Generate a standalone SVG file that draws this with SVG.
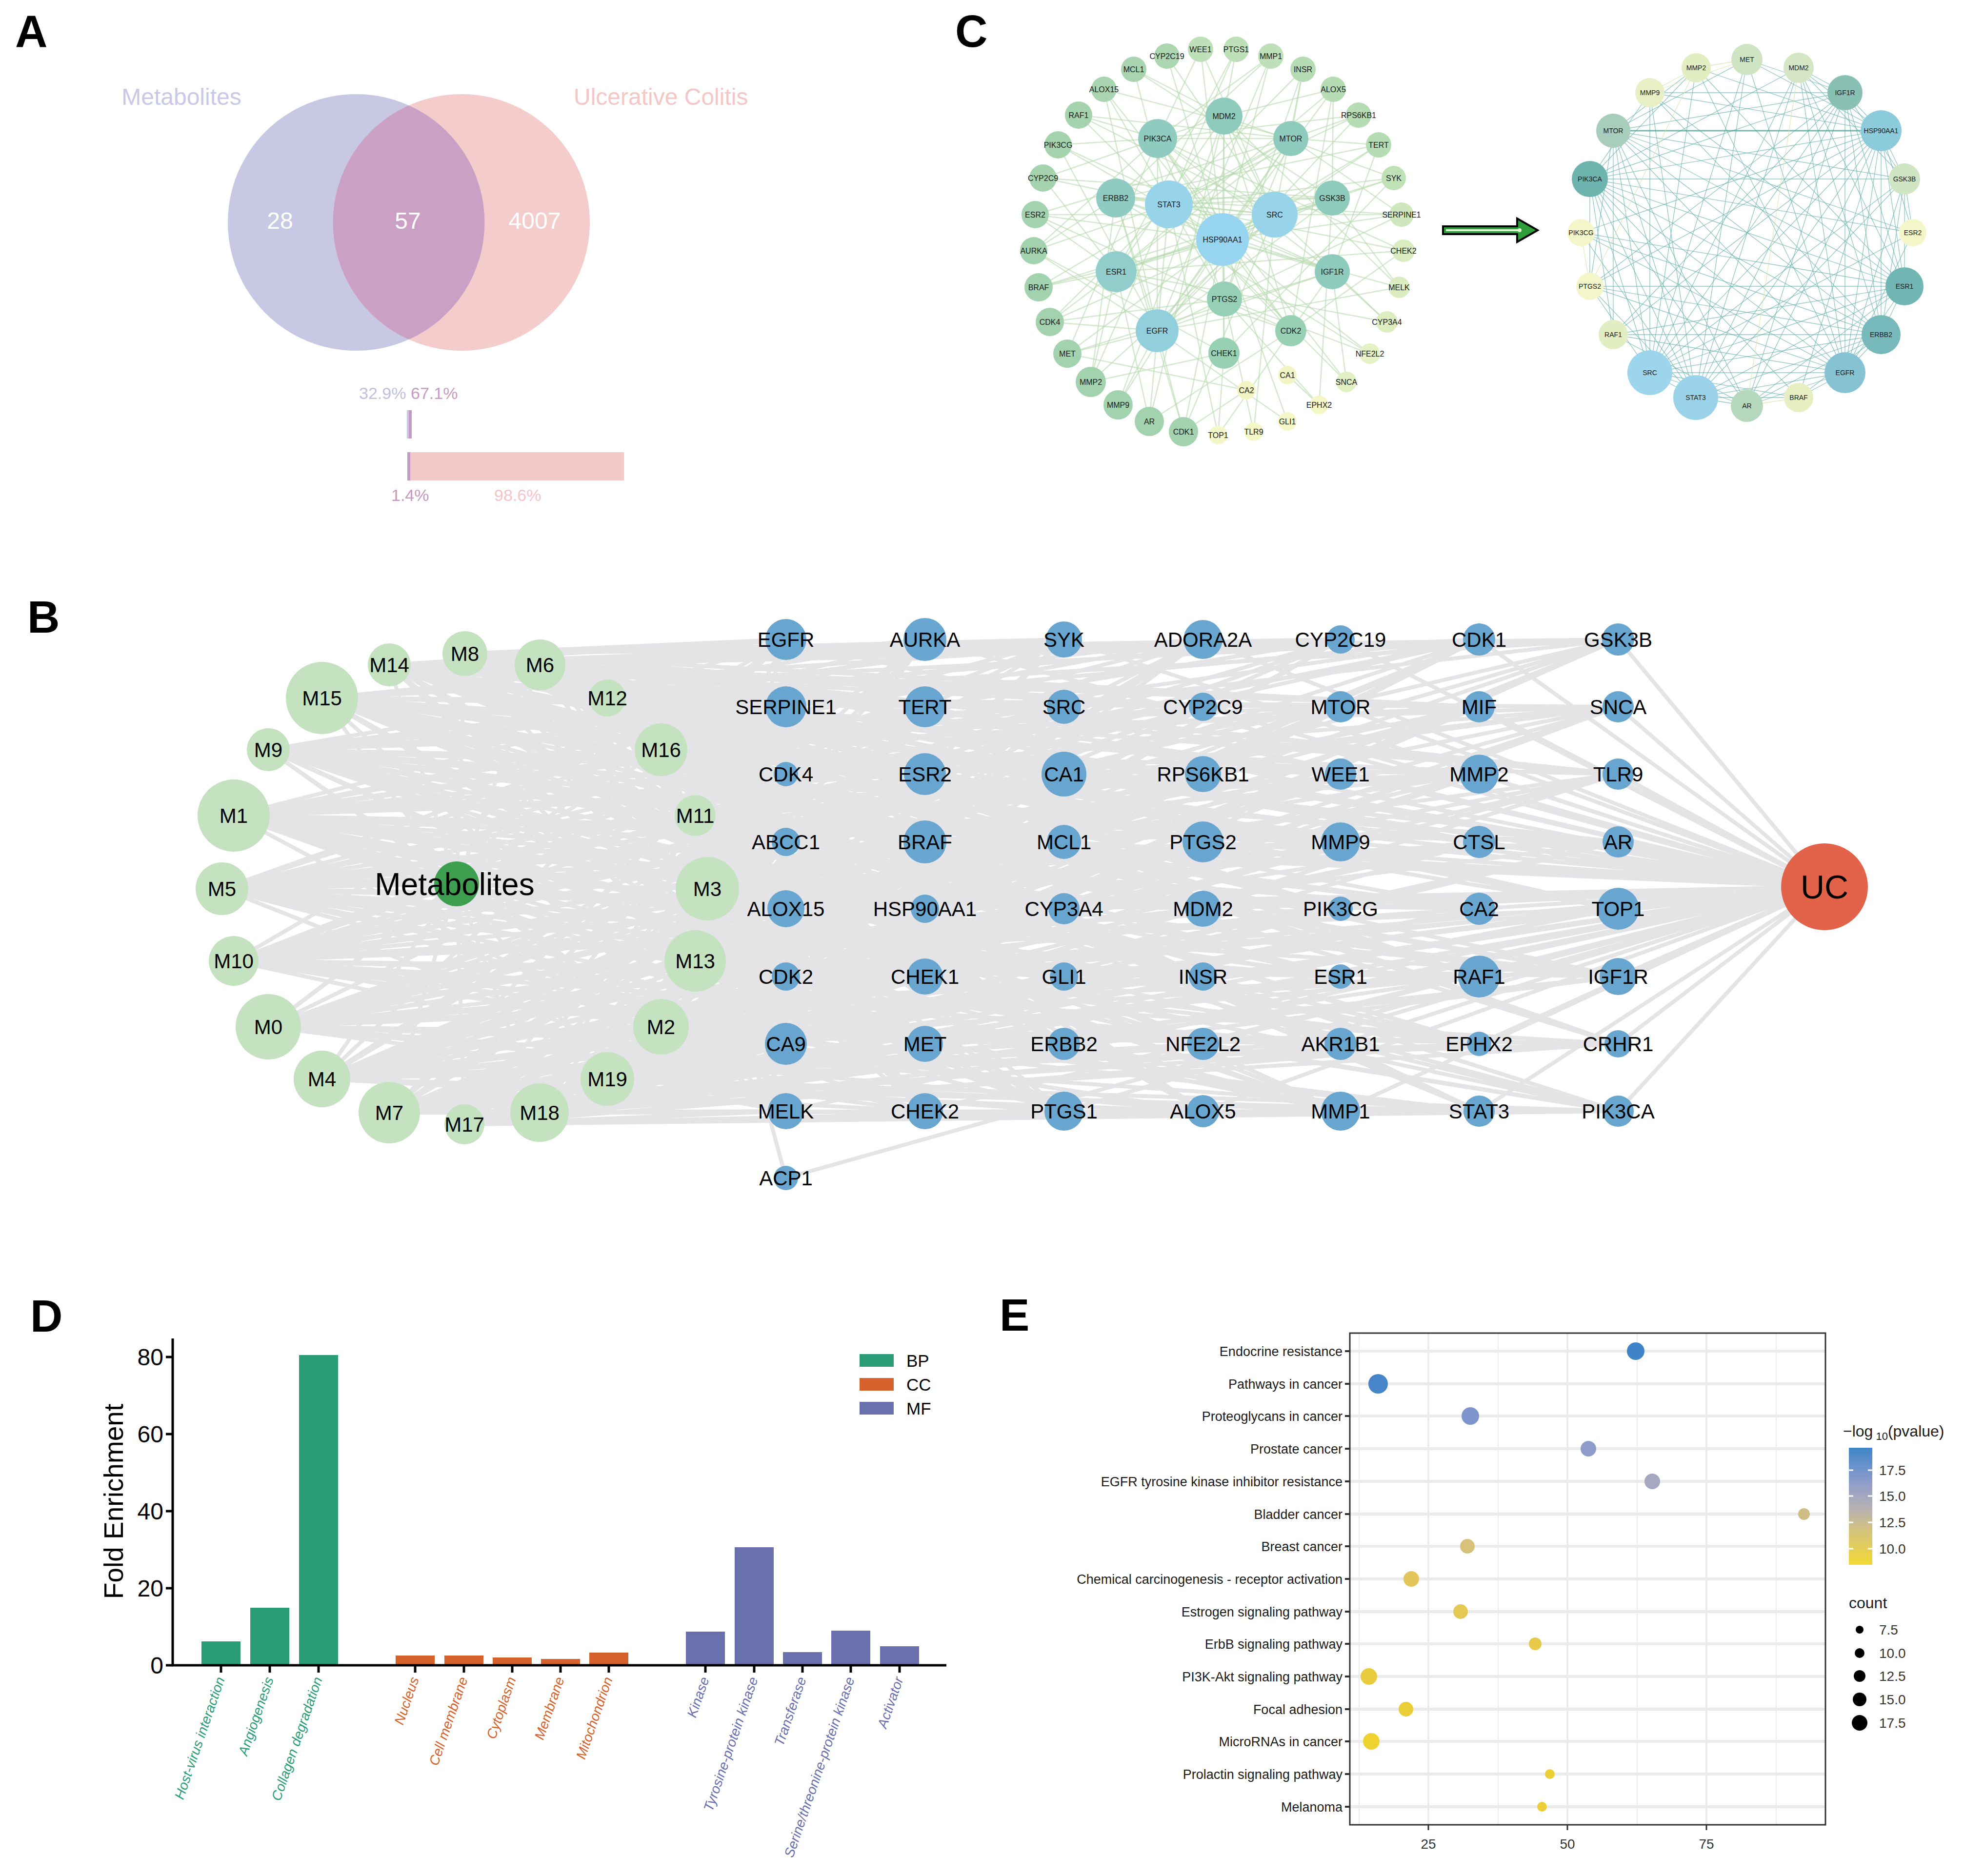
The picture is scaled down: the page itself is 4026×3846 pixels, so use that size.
<svg xmlns="http://www.w3.org/2000/svg" width="4026" height="3846" viewBox="0 0 4026 3846">
<style>
text{font-family:"Liberation Sans",Arial,sans-serif}
.pl{font-size:92px;font-weight:bold;fill:#000}
.bn{fill:#68a5cf}
.bt{font-size:42px;text-anchor:middle;fill:#000}
.mn{fill:#c4e2bf}
.ct{font-size:16px;text-anchor:middle;fill:#1a1a1a}
.rt{font-size:14px;text-anchor:middle;fill:#1a1a1a}
.el{font-size:27px;text-anchor:end;fill:#1a1a1a}
.xl{font-size:28px;font-style:italic;text-anchor:end}
.gl{stroke:#ebebeb;fill:none}
</style>
<defs>
<linearGradient id="cbar" x1="0" y1="0" x2="0" y2="1">
<stop offset="0" stop-color="#3f86c9"/><stop offset="0.3" stop-color="#8f9ccb"/><stop offset="0.5" stop-color="#b4b0b6"/><stop offset="0.72" stop-color="#d6c47a"/><stop offset="1" stop-color="#f2d934"/>
</linearGradient>
</defs>
<rect width="4026" height="3846" fill="#fff"/>

<!-- Panel letters -->
<text class="pl" x="31" y="96">A</text>
<text class="pl" x="56" y="1297">B</text>
<text class="pl" x="1958" y="96">C</text>
<text class="pl" x="62" y="2730">D</text>
<text class="pl" x="2049" y="2728">E</text>

<!-- Panel A -->
<g id="venn">
<circle cx="730" cy="456" r="263" fill="#c8c8e4"/>
<circle cx="946" cy="456" r="263" fill="#f4cccc"/>
<path d="M838 216A263 263 0 0 1 838 696A263 263 0 0 1 838 216Z" fill="#caa1c4"/>
<text x="372" y="215" font-size="48" text-anchor="middle" fill="#c9c8e6">Metabolites</text>
<text x="1176" y="215" font-size="48" fill="#f4c6c6">Ulcerative Colitis</text>
<text x="574" y="469" font-size="48" text-anchor="middle" fill="#fff">28</text>
<text x="836" y="469" font-size="48" text-anchor="middle" fill="#fff">57</text>
<text x="1096" y="469" font-size="48" text-anchor="middle" fill="#fff">4007</text>
</g>
<g id="venn-bars">
<text x="736" y="818" font-size="34" fill="#c3bfdf">32.9%</text>
<text x="842" y="818" font-size="34" fill="#c69cc2">67.1%</text>
<rect x="834" y="841" width="4" height="58" fill="#c8c8e4"/>
<rect x="838" y="841" width="6" height="58" fill="#c39ac0"/>
<rect x="835" y="927" width="6" height="58" fill="#c39ac0"/>
<rect x="841" y="927" width="438" height="58" fill="#f4c9c9"/>
<text x="802" y="1027" font-size="34" fill="#c39ac0">1.4%</text>
<text x="1013" y="1027" font-size="34" fill="#f4c4c8">98.6%</text>
</g>

<!-- Panel C left network -->
<g id="cl-edges" stroke="#b5d9ae" stroke-opacity="0.6" stroke-width="2.5" fill="none">
<path d="M2506 491L2461 101M2506 491L2605 115M2506 491L2733 183M2506 491L2826 297M2506 491L2873 440M2506 491L2868 589M2506 491L2808 725M2506 491L2639 864M2506 491L2426 885M2506 491L2292 830M2506 491L2188 725M2506 491L2129 589M2506 491L2122 440M2506 491L2169 297M2506 491L2263 183M2506 491L2392 115M2506 491L2396 419M2506 491L2613 440M2506 491L2372 678M2506 491L2288 557M2506 491L2373 284M2506 491L2509 238M2506 491L2646 284M2506 491L2287 406M2506 491L2731 406M2506 491L2731 557M2506 491L2510 613M2506 491L2646 678M2506 491L2509 724"/>
<path d="M2396 419L2534 101M2396 419L2671 142M2396 419L2785 236M2396 419L2857 365M2396 419L2877 514M2396 419L2760 783M2396 419L2497 892M2396 419L2356 864M2396 419L2236 783M2396 419L2152 660M2396 419L2119 514M2396 419L2138 365M2396 419L2211 236M2396 419L2324 142M2396 419L2613 440M2396 419L2372 678M2396 419L2646 284M2396 419L2731 557M2396 419L2731 406M2396 419L2646 678"/>
<path d="M2613 440L2461 101M2613 440L2671 142M2613 440L2826 297M2613 440L2857 365M2613 440L2873 440M2613 440L2843 660M2613 440L2570 885M2613 440L2426 885M2613 440L2236 783M2613 440L2129 589M2613 440L2122 440M2613 440L2211 236M2613 440L2392 115M2613 440L2372 678M2613 440L2288 557M2613 440L2287 406M2613 440L2373 284M2613 440L2509 238"/>
<path d="M2372 678L2605 115M2372 678L2785 236M2372 678L2873 440M2372 678L2868 589M2372 678L2639 864M2372 678L2426 885M2372 678L2292 830M2372 678L2188 725M2372 678L2152 660M2372 678L2119 514M2372 678L2169 297M2372 678L2263 183M2372 678L2646 284M2372 678L2731 406M2372 678L2731 557M2372 678L2373 284M2372 678L2287 406"/>
<path d="M2288 557L2534 101M2288 557L2733 183M2288 557L2857 365M2288 557L2877 514M2288 557L2843 660M2288 557L2356 864M2288 557L2236 783M2288 557L2152 660M2288 557L2129 589M2288 557L2122 440M2288 557L2138 365M2288 557L2509 238M2288 557L2646 284M2288 557L2731 406M2288 557L2646 678"/>
<path d="M2373 284L2461 101M2373 284L2605 115M2373 284L2785 236M2373 284L2877 514M2373 284L2760 783M2373 284L2188 725M2373 284L2119 514M2373 284L2169 297M2373 284L2211 236M2373 284L2646 284M2373 284L2731 557M2373 284L2510 613M2373 284L2646 678"/>
<path d="M2509 238L2534 101M2509 238L2733 183M2509 238L2857 365M2509 238L2868 589M2509 238L2356 864M2509 238L2292 830M2509 238L2138 365M2509 238L2324 142M2509 238L2509 724M2509 238L2646 678"/>
<path d="M2646 284L2671 142M2646 284L2785 236M2646 284L2826 297M2646 284L2873 440M2646 284L2129 589M2646 284L2122 440M2646 284L2211 236M2646 284L2263 183M2646 284L2510 613"/>
<path d="M2287 406L2605 115M2287 406L2826 297M2287 406L2873 440M2287 406L2808 725M2287 406L2426 885M2287 406L2236 783M2287 406L2119 514M2287 406L2731 557M2287 406L2731 406"/>
<path d="M2731 406L2733 183M2731 406L2868 589M2731 406L2704 830M2731 406L2152 660M2731 406L2138 365M2731 406L2324 142M2731 557L2826 297M2731 557L2843 660M2731 557L2760 783M2731 557L2497 892M2731 557L2188 725M2731 557L2169 297"/>
<path d="M2510 613L2671 142M2510 613L2808 725M2510 613L2704 830M2510 613L2570 885M2510 613L2152 660M2510 613L2263 183M2646 678L2733 183M2646 678L2877 514M2646 678L2356 864M2646 678L2122 440M2509 724L2857 365M2509 724L2497 892M2509 724L2236 783M2509 724L2119 514M2639 769L2704 830M2555 800L2426 885M2555 800L2188 725"/>
</g>
<g id="cl-nodes">
<g id="cl-WEE1"><circle cx="2461" cy="101" r="26" fill="#bde0b8"/><text class="ct" x="2461" y="107">WEE1</text></g>
<g id="cl-PTGS1"><circle cx="2534" cy="101" r="26" fill="#bde0b8"/><text class="ct" x="2534" y="107">PTGS1</text></g>
<g id="cl-MMP1"><circle cx="2605" cy="115" r="26" fill="#bde0b8"/><text class="ct" x="2605" y="121">MMP1</text></g>
<g id="cl-INSR"><circle cx="2671" cy="142" r="26" fill="#b6dcb4"/><text class="ct" x="2671" y="148">INSR</text></g>
<g id="cl-ALOX5"><circle cx="2733" cy="183" r="26" fill="#b6dcb4"/><text class="ct" x="2733" y="189">ALOX5</text></g>
<g id="cl-RPS6KB1"><circle cx="2785" cy="236" r="26" fill="#b6dcb4"/><text class="ct" x="2785" y="242">RPS6KB1</text></g>
<g id="cl-TERT"><circle cx="2826" cy="297" r="26" fill="#b6dcb4"/><text class="ct" x="2826" y="303">TERT</text></g>
<g id="cl-SYK"><circle cx="2857" cy="365" r="25" fill="#bfe1b6"/><text class="ct" x="2857" y="371">SYK</text></g>
<g id="cl-SERPINE1"><circle cx="2873" cy="440" r="25" fill="#cfe7bd"/><text class="ct" x="2873" y="446">SERPINE1</text></g>
<g id="cl-CHEK2"><circle cx="2877" cy="514" r="23" fill="#d8ecbf"/><text class="ct" x="2877" y="520">CHEK2</text></g>
<g id="cl-MELK"><circle cx="2868" cy="589" r="22" fill="#dbedc0"/><text class="ct" x="2868" y="595">MELK</text></g>
<g id="cl-CYP3A4"><circle cx="2843" cy="660" r="22" fill="#dcedbf"/><text class="ct" x="2843" y="666">CYP3A4</text></g>
<g id="cl-NFE2L2"><circle cx="2808" cy="725" r="21" fill="#e6f2c3"/><text class="ct" x="2808" y="731">NFE2L2</text></g>
<g id="cl-SNCA"><circle cx="2760" cy="783" r="21" fill="#e2efc2"/><text class="ct" x="2760" y="789">SNCA</text></g>
<g id="cl-EPHX2"><circle cx="2704" cy="830" r="19" fill="#f3f7c6"/><text class="ct" x="2704" y="836">EPHX2</text></g>
<g id="cl-GLI1"><circle cx="2639" cy="864" r="19" fill="#f4f8c7"/><text class="ct" x="2639" y="870">GLI1</text></g>
<g id="cl-TLR9"><circle cx="2570" cy="885" r="19" fill="#f4f8c7"/><text class="ct" x="2570" y="891">TLR9</text></g>
<g id="cl-TOP1"><circle cx="2497" cy="892" r="19" fill="#f4f8c7"/><text class="ct" x="2497" y="898">TOP1</text></g>
<g id="cl-CDK1"><circle cx="2426" cy="885" r="30" fill="#a2d2ae"/><text class="ct" x="2426" y="891">CDK1</text></g>
<g id="cl-AR"><circle cx="2356" cy="864" r="30" fill="#a2d2ae"/><text class="ct" x="2356" y="870">AR</text></g>
<g id="cl-MMP9"><circle cx="2292" cy="830" r="30" fill="#a2d2ae"/><text class="ct" x="2292" y="836">MMP9</text></g>
<g id="cl-MMP2"><circle cx="2236" cy="783" r="31" fill="#a2d2ae"/><text class="ct" x="2236" y="789">MMP2</text></g>
<g id="cl-MET"><circle cx="2188" cy="725" r="29" fill="#a2d2ae"/><text class="ct" x="2188" y="731">MET</text></g>
<g id="cl-CDK4"><circle cx="2152" cy="660" r="29" fill="#a2d2ae"/><text class="ct" x="2152" y="666">CDK4</text></g>
<g id="cl-BRAF"><circle cx="2129" cy="589" r="29" fill="#a2d2ae"/><text class="ct" x="2129" y="595">BRAF</text></g>
<g id="cl-AURKA"><circle cx="2119" cy="514" r="28" fill="#a2d2ae"/><text class="ct" x="2119" y="520">AURKA</text></g>
<g id="cl-ESR2"><circle cx="2122" cy="440" r="28" fill="#a2d2ae"/><text class="ct" x="2122" y="446">ESR2</text></g>
<g id="cl-CYP2C9"><circle cx="2138" cy="365" r="28" fill="#a5d3ae"/><text class="ct" x="2138" y="371">CYP2C9</text></g>
<g id="cl-PIK3CG"><circle cx="2169" cy="297" r="28" fill="#a5d3ae"/><text class="ct" x="2169" y="303">PIK3CG</text></g>
<g id="cl-RAF1"><circle cx="2211" cy="236" r="28" fill="#a5d3ae"/><text class="ct" x="2211" y="242">RAF1</text></g>
<g id="cl-ALOX15"><circle cx="2263" cy="183" r="26" fill="#a8d5af"/><text class="ct" x="2263" y="189">ALOX15</text></g>
<g id="cl-MCL1"><circle cx="2324" cy="142" r="26" fill="#a8d5af"/><text class="ct" x="2324" y="148">MCL1</text></g>
<g id="cl-CYP2C19"><circle cx="2392" cy="115" r="26" fill="#abd6b0"/><text class="ct" x="2392" y="121">CYP2C19</text></g>
<g id="cl-MDM2"><circle cx="2509" cy="238" r="38" fill="#8fcbbc"/><text class="ct" x="2509" y="244">MDM2</text></g>
<g id="cl-PIK3CA"><circle cx="2373" cy="284" r="40" fill="#8fcbbf"/><text class="ct" x="2373" y="290">PIK3CA</text></g>
<g id="cl-MTOR"><circle cx="2646" cy="284" r="36" fill="#8fcbbc"/><text class="ct" x="2646" y="290">MTOR</text></g>
<g id="cl-ERBB2"><circle cx="2287" cy="406" r="40" fill="#8fcbc2"/><text class="ct" x="2287" y="412">ERBB2</text></g>
<g id="cl-GSK3B"><circle cx="2731" cy="406" r="36" fill="#8fcbbc"/><text class="ct" x="2731" y="412">GSK3B</text></g>
<g id="cl-ESR1"><circle cx="2288" cy="557" r="42" fill="#90cdcb"/><text class="ct" x="2288" y="563">ESR1</text></g>
<g id="cl-IGF1R"><circle cx="2731" cy="557" r="36" fill="#8fcbbc"/><text class="ct" x="2731" y="563">IGF1R</text></g>
<g id="cl-PTGS2"><circle cx="2510" cy="613" r="36" fill="#95cfb6"/><text class="ct" x="2510" y="619">PTGS2</text></g>
<g id="cl-CDK2"><circle cx="2646" cy="678" r="32" fill="#97d0b2"/><text class="ct" x="2646" y="684">CDK2</text></g>
<g id="cl-CHEK1"><circle cx="2509" cy="724" r="32" fill="#97d0b2"/><text class="ct" x="2509" y="730">CHEK1</text></g>
<g id="cl-CA1"><circle cx="2639" cy="769" r="19" fill="#f2f6c5"/><text class="ct" x="2639" y="775">CA1</text></g>
<g id="cl-CA2"><circle cx="2555" cy="800" r="19" fill="#f2f6c5"/><text class="ct" x="2555" y="806">CA2</text></g>
<g id="cl-EGFR"><circle cx="2372" cy="678" r="44" fill="#91cfdc"/><text class="ct" x="2372" y="684">EGFR</text></g>
<g id="cl-STAT3"><circle cx="2396" cy="419" r="49" fill="#97d4ea"/><text class="ct" x="2396" y="425">STAT3</text></g>
<g id="cl-SRC"><circle cx="2613" cy="440" r="47" fill="#97d4ea"/><text class="ct" x="2613" y="446">SRC</text></g>
<g id="cl-HSP90AA1"><circle cx="2506" cy="491" r="54" fill="#97d4ef"/><text class="ct" x="2506" y="497">HSP90AA1</text></g>
</g>

<!-- Arrow -->
<g id="arrow">
<path d="M2958 464L3110 464L3110 448L3152 472L3110 496L3110 480L2958 480Z" fill="#2e9e3a" stroke="#000" stroke-width="4" stroke-linejoin="miter"/>
<line x1="2964" y1="472" x2="3114" y2="472" stroke="#e2f5d6" stroke-width="4"/>
<circle cx="3115" cy="472" r="4" fill="#e2f5d6"/>
</g>

<!-- Panel C right network -->
<g id="cr-edges" stroke="#68b3ae" stroke-width="1.3" stroke-opacity="0.75" fill="none">
<path d="M3382 764L3581 122M3382 764L3477 139M3382 764L3687 139M3382 764L3382 190M3382 764L3782 190M3382 764L3307 268M3382 764L3856 268M3382 764L3259 367M3382 764L3904 367M3382 764L3921 477M3382 764L3259 587M3382 764L3904 587M3382 764L3856 686M3382 764L3782 764M3382 764L3476 815M3382 764L3581 832M3382 764L3687 815"/>
<path d="M3476 815L3581 122M3476 815L3687 139M3476 815L3382 190M3476 815L3782 190M3476 815L3307 268M3476 815L3856 268M3476 815L3259 367M3476 815L3904 367M3476 815L3241 477M3476 815L3259 587M3476 815L3904 587M3476 815L3856 686M3476 815L3782 764M3476 815L3581 832M3476 815L3687 815"/>
<path d="M3856 268L3581 122M3856 268L3477 139M3856 268L3687 139M3856 268L3382 190M3856 268L3782 190M3856 268L3259 367M3856 268L3904 367M3856 268L3241 477M3856 268L3921 477M3856 268L3259 587M3856 268L3904 587M3856 268L3307 686M3856 268L3856 686M3856 268L3782 764M3856 268L3581 832M3856 268L3687 815"/>
<path d="M3782 764L3581 122M3782 764L3477 139M3782 764L3687 139M3782 764L3782 190M3782 764L3307 268M3782 764L3259 367M3782 764L3904 367M3782 764L3241 477M3782 764L3921 477M3782 764L3259 587M3782 764L3904 587M3782 764L3307 686M3782 764L3856 686M3782 764L3581 832M3782 764L3687 815"/>
<path d="M3904 587L3477 139M3904 587L3687 139M3904 587L3382 190M3904 587L3782 190M3904 587L3307 268M3904 587L3259 367M3904 587L3904 367M3904 587L3241 477M3904 587L3259 587M3904 587L3307 686M3904 587L3856 686M3904 587L3581 832"/>
<path d="M3856 686L3687 139M3856 686L3382 190M3856 686L3782 190M3856 686L3307 268M3856 686L3259 367M3856 686L3904 367M3856 686L3241 477M3856 686L3259 587M3856 686L3307 686M3856 686L3581 832M3856 686L3687 815"/>
<path d="M3259 367L3477 139M3259 367L3687 139M3259 367L3382 190M3259 367L3782 190M3259 367L3904 367M3259 367L3921 477M3259 367L3259 587M3259 367L3307 686M3259 367L3581 832M3259 367L3687 815"/>
<path d="M3782 190L3581 122M3782 190L3687 139M3782 190L3382 190M3782 190L3307 268M3782 190L3904 367M3782 190L3259 587M3782 190L3307 686M3782 190L3581 832M3307 268L3581 122M3307 268L3477 139M3307 268L3904 367M3307 268L3921 477M3307 268L3259 587M3307 268L3307 686M3307 268L3581 832M3687 139L3904 367M3904 367L3921 477M3581 832L3307 686"/>
<path d="M3307 268L3856 268" stroke="#4f9f9a" stroke-width="3"/>
<path d="M3581 122L3477 139M3581 122L3382 190M3477 139L3382 190M3241 477L3259 587M3581 832L3687 815M3477 139L3259 587M3687 139L3581 832" stroke="#d4e6a6"/>
</g>
<g id="cr-nodes">
<g id="cr-MET"><circle cx="3581" cy="122" r="32" fill="#cfe4c2"/><text class="rt" x="3581" y="127">MET</text></g>
<g id="cr-MMP2"><circle cx="3477" cy="139" r="30" fill="#e3edc2"/><text class="rt" x="3477" y="144">MMP2</text></g>
<g id="cr-MDM2"><circle cx="3687" cy="139" r="31" fill="#d4e6c4"/><text class="rt" x="3687" y="144">MDM2</text></g>
<g id="cr-MMP9"><circle cx="3382" cy="190" r="30" fill="#e6f0c4"/><text class="rt" x="3382" y="195">MMP9</text></g>
<g id="cr-IGF1R"><circle cx="3782" cy="190" r="36" fill="#88c0b4"/><text class="rt" x="3782" y="195">IGF1R</text></g>
<g id="cr-MTOR"><circle cx="3307" cy="268" r="35" fill="#a7cdbd"/><text class="rt" x="3307" y="273">MTOR</text></g>
<g id="cr-HSP90AA1"><circle cx="3856" cy="268" r="42" fill="#8ccbdb"/><text class="rt" x="3856" y="273">HSP90AA1</text></g>
<g id="cr-PIK3CA"><circle cx="3259" cy="367" r="37" fill="#6db3ae"/><text class="rt" x="3259" y="372">PIK3CA</text></g>
<g id="cr-GSK3B"><circle cx="3904" cy="367" r="32" fill="#d0e5c3"/><text class="rt" x="3904" y="372">GSK3B</text></g>
<g id="cr-PIK3CG"><circle cx="3241" cy="477" r="28" fill="#f3f6c8"/><text class="rt" x="3241" y="482">PIK3CG</text></g>
<g id="cr-ESR2"><circle cx="3921" cy="477" r="28" fill="#f3f6c8"/><text class="rt" x="3921" y="482">ESR2</text></g>
<g id="cr-PTGS2"><circle cx="3259" cy="587" r="28" fill="#f3f6c8"/><text class="rt" x="3259" y="592">PTGS2</text></g>
<g id="cr-ESR1"><circle cx="3904" cy="587" r="39" fill="#72b6b4"/><text class="rt" x="3904" y="592">ESR1</text></g>
<g id="cr-RAF1"><circle cx="3307" cy="686" r="30" fill="#e3edc2"/><text class="rt" x="3307" y="691">RAF1</text></g>
<g id="cr-ERBB2"><circle cx="3856" cy="686" r="40" fill="#77b8bb"/><text class="rt" x="3856" y="691">ERBB2</text></g>
<g id="cr-SRC"><circle cx="3382" cy="764" r="46" fill="#9dd5ec"/><text class="rt" x="3382" y="769">SRC</text></g>
<g id="cr-EGFR"><circle cx="3782" cy="764" r="42" fill="#85c3d3"/><text class="rt" x="3782" y="769">EGFR</text></g>
<g id="cr-STAT3"><circle cx="3476" cy="815" r="46" fill="#9ad3e9"/><text class="rt" x="3476" y="820">STAT3</text></g>
<g id="cr-AR"><circle cx="3581" cy="832" r="33" fill="#b5d8bd"/><text class="rt" x="3581" y="837">AR</text></g>
<g id="cr-BRAF"><circle cx="3687" cy="815" r="30" fill="#e6eec2"/><text class="rt" x="3687" y="820">BRAF</text></g>
</g>

<!-- Panel B edges -->
<g id="b-edges" stroke="#e4e4e6" stroke-width="8" fill="none" stroke-linejoin="round">
<path d="M936 1812L550 2105M936 1812L479 1672M936 1812L1355 2105M936 1812L1450 1822M936 1812L660 2212M936 1812L455 1822M936 1812L1107 1363M936 1812L798 2281M936 1812L953 1340M936 1812L550 1537M936 1812L479 1970M936 1812L1425 1672M936 1812L1245 1431M936 1812L1425 1970M936 1812L798 1363M936 1812L660 1431M936 1812L1355 1537M936 1812L952 2305M936 1812L1106 2281M936 1812L1245 2212"/>
<path d="M550 2105L1611 1311M550 2105L1611 1863M550 2105L1896 1726M550 2105L1896 2278M550 2105L2181 2140M550 2105L2181 1587M550 2105L2466 1449M550 2105L2466 2002M550 2105L2748 1863M550 2105L2748 1311M550 2105L3032 2278M550 2105L3032 1726M550 2105L3317 1587M550 2105L3317 2140"/>
<path d="M660 2212L1611 1311M660 2212L1611 1863M660 2212L1896 1726M660 2212L1896 2278M660 2212L2181 2140M660 2212L2181 1587M660 2212L2466 1449M660 2212L2466 2002M660 2212L2748 1863M660 2212L2748 1311M660 2212L3032 2278M660 2212L3032 1726M660 2212L3317 1587M660 2212L3317 2140"/>
<path d="M953 1340L1611 1311M953 1340L1611 1863M953 1340L1896 1726M953 1340L1896 2278M953 1340L2181 2140M953 1340L2181 1587M953 1340L2466 1449M953 1340L2466 2002M953 1340L2748 1863M953 1340L2748 1311M953 1340L3032 2278M953 1340L3032 1726M953 1340L3317 1587M953 1340L3317 2140"/>
<path d="M1245 1431L1611 1311M1245 1431L1611 1863M1245 1431L1896 1726M1245 1431L1896 2278M1245 1431L2181 2140M1245 1431L2181 1587M1245 1431L2466 1449M1245 1431L2466 2002M1245 1431L2748 1863M1245 1431L2748 1311M1245 1431L3032 2278M1245 1431L3032 1726M1245 1431L3317 1587M1245 1431L3317 2140"/>
<path d="M1355 1537L1611 1311M1355 1537L1611 1863M1355 1537L1896 1726M1355 1537L1896 2278M1355 1537L2181 2140M1355 1537L2181 1587M1355 1537L2466 1449M1355 1537L2466 2002M1355 1537L2748 1863M1355 1537L2748 1311M1355 1537L3032 2278M1355 1537L3032 1726M1355 1537L3317 1587M1355 1537L3317 2140"/>
<path d="M479 1672L1611 1449M479 1672L1611 2002M479 1672L1896 1863M479 1672L1896 1311M479 1672L2181 2278M479 1672L2181 1726M479 1672L2466 1587M479 1672L2466 2140M479 1672L2748 2002M479 1672L2748 1449M479 1672L3032 1311M479 1672L3032 1863M479 1672L3317 1726M479 1672L3317 2278"/>
<path d="M455 1822L1611 1449M455 1822L1611 2002M455 1822L1896 1863M455 1822L1896 1311M455 1822L2181 2278M455 1822L2181 1726M455 1822L2466 1587M455 1822L2466 2140M455 1822L2748 2002M455 1822L2748 1449M455 1822L3032 1311M455 1822L3032 1863M455 1822L3317 1726M455 1822L3317 2278"/>
<path d="M550 1537L1611 1449M550 1537L1611 2002M550 1537L1896 1863M550 1537L1896 1311M550 1537L2181 2278M550 1537L2181 1726M550 1537L2466 1587M550 1537L2466 2140M550 1537L2748 2002M550 1537L2748 1449M550 1537L3032 1311M550 1537L3032 1863M550 1537L3317 1726M550 1537L3317 2278"/>
<path d="M1425 1970L1611 1449M1425 1970L1611 2002M1425 1970L1896 1863M1425 1970L1896 1311M1425 1970L2181 2278M1425 1970L2181 1726M1425 1970L2466 1587M1425 1970L2466 2140M1425 1970L2748 2002M1425 1970L2748 1449M1425 1970L3032 1311M1425 1970L3032 1863M1425 1970L3317 1726M1425 1970L3317 2278"/>
<path d="M952 2305L1611 1449M952 2305L1611 2002M952 2305L1896 1863M952 2305L1896 1311M952 2305L2181 2278M952 2305L2181 1726M952 2305L2466 1587M952 2305L2466 2140M952 2305L2748 2002M952 2305L2748 1449M952 2305L3032 1311M952 2305L3032 1863M952 2305L3317 1726M952 2305L3317 2278"/>
<path d="M1355 2105L1611 1587M1355 2105L1611 2140M1355 2105L1896 2002M1355 2105L1896 1449M1355 2105L2181 1311M1355 2105L2181 1863M1355 2105L2466 1726M1355 2105L2466 2278M1355 2105L2748 2140M1355 2105L2748 1587M1355 2105L3032 1449M1355 2105L3032 2002M1355 2105L3317 1863M1355 2105L3317 1311"/>
<path d="M1107 1363L1611 1587M1107 1363L1611 2140M1107 1363L1896 2002M1107 1363L1896 1449M1107 1363L2181 1311M1107 1363L2181 1863M1107 1363L2466 1726M1107 1363L2466 2278M1107 1363L2748 2140M1107 1363L2748 1587M1107 1363L3032 1449M1107 1363L3032 2002M1107 1363L3317 1863M1107 1363L3317 1311"/>
<path d="M479 1970L1611 1587M479 1970L1611 2140M479 1970L1896 2002M479 1970L1896 1449M479 1970L2181 1311M479 1970L2181 1863M479 1970L2466 1726M479 1970L2466 2278M479 1970L2748 2140M479 1970L2748 1587M479 1970L3032 1449M479 1970L3032 2002M479 1970L3317 1863M479 1970L3317 1311"/>
<path d="M798 1363L1611 1587M798 1363L1611 2140M798 1363L1896 2002M798 1363L1896 1449M798 1363L2181 1311M798 1363L2181 1863M798 1363L2466 1726M798 1363L2466 2278M798 1363L2748 2140M798 1363L2748 1587M798 1363L3032 1449M798 1363L3032 2002M798 1363L3317 1863M798 1363L3317 1311"/>
<path d="M1106 2281L1611 1587M1106 2281L1611 2140M1106 2281L1896 2002M1106 2281L1896 1449M1106 2281L2181 1311M1106 2281L2181 1863M1106 2281L2466 1726M1106 2281L2466 2278M1106 2281L2748 2140M1106 2281L2748 1587M1106 2281L3032 1449M1106 2281L3032 2002M1106 2281L3317 1863M1106 2281L3317 1311"/>
<path d="M1450 1822L1611 1726M1450 1822L1611 2278M1450 1822L1896 2140M1450 1822L1896 1587M1450 1822L2181 1449M1450 1822L2181 2002M1450 1822L2466 1863M1450 1822L2466 1311M1450 1822L2748 2278M1450 1822L2748 1726M1450 1822L3032 1587M1450 1822L3032 2140M1450 1822L3317 2002M1450 1822L3317 1449M1450 1822L1611 2415"/>
<path d="M798 2281L1611 1726M798 2281L1611 2278M798 2281L1896 2140M798 2281L1896 1587M798 2281L2181 1449M798 2281L2181 2002M798 2281L2466 1863M798 2281L2466 1311M798 2281L2748 2278M798 2281L2748 1726M798 2281L3032 1587M798 2281L3032 2140M798 2281L3317 2002M798 2281L3317 1449"/>
<path d="M1425 1672L1611 1726M1425 1672L1611 2278M1425 1672L1896 2140M1425 1672L1896 1587M1425 1672L2181 1449M1425 1672L2181 2002M1425 1672L2466 1863M1425 1672L2466 1311M1425 1672L2748 2278M1425 1672L2748 1726M1425 1672L3032 1587M1425 1672L3032 2140M1425 1672L3317 2002M1425 1672L3317 1449"/>
<path d="M660 1431L1611 1726M660 1431L1611 2278M660 1431L1896 2140M660 1431L1896 1587M660 1431L2181 1449M660 1431L2181 2002M660 1431L2466 1863M660 1431L2466 1311M660 1431L2748 2278M660 1431L2748 1726M660 1431L3032 1587M660 1431L3032 2140M660 1431L3317 2002M660 1431L3317 1449"/>
<path d="M1245 2212L1611 1726M1245 2212L1611 2278M1245 2212L1896 2140M1245 2212L1896 1587M1245 2212L2181 1449M1245 2212L2181 2002M1245 2212L2466 1863M1245 2212L2466 1311M1245 2212L2748 2278M1245 2212L2748 1726M1245 2212L3032 1587M1245 2212L3032 2140M1245 2212L3317 2002M1245 2212L3317 1449"/>
<path d="M550 2105L1611 1587M550 2105L1611 2140M550 2105L1896 2002M550 2105L1896 1449M550 2105L2181 1311M550 2105L2181 1863M550 2105L2466 1726M550 2105L2466 2278M550 2105L2748 2140M550 2105L2748 1587M550 2105L3032 1449M550 2105L3032 2002M550 2105L3317 1863M550 2105L3317 1311"/>
<path d="M479 1672L1611 1726M479 1672L1611 2278M479 1672L1896 2140M479 1672L1896 1587M479 1672L2181 1449M479 1672L2181 2002M479 1672L2466 1863M479 1672L2466 1311M479 1672L2748 2278M479 1672L2748 1726M479 1672L3032 1587M479 1672L3032 2140M479 1672L3317 2002M479 1672L3317 1449"/>
<path d="M1355 2105L1611 1311M1355 2105L1611 1863M1355 2105L1896 1726M1355 2105L1896 2278M1355 2105L2181 2140M1355 2105L2181 1587M1355 2105L2466 1449M1355 2105L2466 2002M1355 2105L2748 1863M1355 2105L2748 1311M1355 2105L3032 2278M1355 2105L3032 1726M1355 2105L3317 1587M1355 2105L3317 2140"/>
<path d="M1450 1822L1611 1449M1450 1822L1611 2002M1450 1822L1896 1863M1450 1822L1896 1311M1450 1822L2181 2278M1450 1822L2181 1726M1450 1822L2466 1587M1450 1822L2466 2140M1450 1822L2748 2002M1450 1822L2748 1449M1450 1822L3032 1311M1450 1822L3032 1863M1450 1822L3317 1726M1450 1822L3317 2278"/>
<path d="M660 2212L1611 1587M660 2212L1611 2140M660 2212L1896 2002M660 2212L1896 1449M660 2212L2181 1311M660 2212L2181 1863M660 2212L2466 1726M660 2212L2466 2278M660 2212L2748 2140M660 2212L2748 1587M660 2212L3032 1449M660 2212L3032 2002M660 2212L3317 1863M660 2212L3317 1311"/>
<path d="M455 1822L1611 1726M455 1822L1611 2278M455 1822L1896 2140M455 1822L1896 1587M455 1822L2181 1449M455 1822L2181 2002M455 1822L2466 1863M455 1822L2466 1311M455 1822L2748 2278M455 1822L2748 1726M455 1822L3032 1587M455 1822L3032 2140M455 1822L3317 2002M455 1822L3317 1449"/>
<path d="M1107 1363L1611 1311M1107 1363L1611 1863M1107 1363L1896 1726M1107 1363L1896 2278M1107 1363L2181 2140M1107 1363L2181 1587M1107 1363L2466 1449M1107 1363L2466 2002M1107 1363L2748 1863M1107 1363L2748 1311M1107 1363L3032 2278M1107 1363L3032 1726M1107 1363L3317 1587M1107 1363L3317 2140"/>
<path d="M798 2281L1611 1449M798 2281L1611 2002M798 2281L1896 1863M798 2281L1896 1311M798 2281L2181 2278M798 2281L2181 1726M798 2281L2466 1587M798 2281L2466 2140M798 2281L2748 2002M798 2281L2748 1449M798 2281L3032 1311M798 2281L3032 1863M798 2281L3317 1726M798 2281L3317 2278"/>
<path d="M953 1340L1611 1587M953 1340L1611 2140M953 1340L1896 2002M953 1340L1896 1449M953 1340L2181 1311M953 1340L2181 1863M953 1340L2466 1726M953 1340L2466 2278M953 1340L2748 2140M953 1340L2748 1587M953 1340L3032 1449M953 1340L3032 2002M953 1340L3317 1863M953 1340L3317 1311"/>
<path d="M550 1537L1611 1726M550 1537L1611 2278M550 1537L1896 2140M550 1537L1896 1587M550 1537L2181 1449M550 1537L2181 2002M550 1537L2466 1863M550 1537L2466 1311M550 1537L2748 2278M550 1537L2748 1726M550 1537L3032 1587M550 1537L3032 2140M550 1537L3317 2002M550 1537L3317 1449"/>
<path d="M479 1970L1611 1311M479 1970L1611 1863M479 1970L1896 1726M479 1970L1896 2278M479 1970L2181 2140M479 1970L2181 1587M479 1970L2466 1449M479 1970L2466 2002M479 1970L2748 1863M479 1970L2748 1311M479 1970L3032 2278M479 1970L3032 1726M479 1970L3317 1587M479 1970L3317 2140"/>
<path d="M1425 1672L1611 1449M1425 1672L1611 2002M1425 1672L1896 1863M1425 1672L1896 1311M1425 1672L2181 2278M1425 1672L2181 1726M1425 1672L2466 1587M1425 1672L2466 2140M1425 1672L2748 2002M1425 1672L2748 1449M1425 1672L3032 1311M1425 1672L3032 1863M1425 1672L3317 1726M1425 1672L3317 2278"/>
<path d="M1245 1431L1611 1587M1245 1431L1611 2140M1245 1431L1896 2002M1245 1431L1896 1449M1245 1431L2181 1311M1245 1431L2181 1863M1245 1431L2466 1726M1245 1431L2466 2278M1245 1431L2748 2140M1245 1431L2748 1587M1245 1431L3032 1449M1245 1431L3032 2002M1245 1431L3317 1863M1245 1431L3317 1311"/>
<path d="M1425 1970L1611 1726M1425 1970L1611 2278M1425 1970L1896 2140M1425 1970L1896 1587M1425 1970L2181 1449M1425 1970L2181 2002M1425 1970L2466 1863M1425 1970L2466 1311M1425 1970L2748 2278M1425 1970L2748 1726M1425 1970L3032 1587M1425 1970L3032 2140M1425 1970L3317 2002M1425 1970L3317 1449"/>
<path d="M798 1363L1611 1311M798 1363L1611 1863M798 1363L1896 1726M798 1363L1896 2278M798 1363L2181 2140M798 1363L2181 1587M798 1363L2466 1449M798 1363L2466 2002M798 1363L2748 1863M798 1363L2748 1311M798 1363L3032 2278M798 1363L3032 1726M798 1363L3317 1587M798 1363L3317 2140"/>
<path d="M660 1431L1611 1449M660 1431L1611 2002M660 1431L1896 1863M660 1431L1896 1311M660 1431L2181 2278M660 1431L2181 1726M660 1431L2466 1587M660 1431L2466 2140M660 1431L2748 2002M660 1431L2748 1449M660 1431L3032 1311M660 1431L3032 1863M660 1431L3317 1726M660 1431L3317 2278"/>
<path d="M1355 1537L1611 1587M1355 1537L1611 2140M1355 1537L1896 2002M1355 1537L1896 1449M1355 1537L2181 1311M1355 1537L2181 1863M1355 1537L2466 1726M1355 1537L2466 2278M1355 1537L2748 2140M1355 1537L2748 1587M1355 1537L3032 1449M1355 1537L3032 2002M1355 1537L3317 1863M1355 1537L3317 1311"/>
<path d="M952 2305L1611 1726M952 2305L1611 2278M952 2305L1896 2140M952 2305L1896 1587M952 2305L2181 1449M952 2305L2181 2002M952 2305L2466 1863M952 2305L2466 1311M952 2305L2748 2278M952 2305L2748 1726M952 2305L3032 1587M952 2305L3032 2140M952 2305L3317 2002M952 2305L3317 1449"/>
<path d="M1106 2281L1611 1311M1106 2281L1611 1863M1106 2281L1896 1726M1106 2281L1896 2278M1106 2281L2181 2140M1106 2281L2181 1587M1106 2281L2466 1449M1106 2281L2466 2002M1106 2281L2748 1863M1106 2281L2748 1311M1106 2281L3032 2278M1106 2281L3032 1726M1106 2281L3317 1587M1106 2281L3317 2140"/>
<path d="M1245 2212L1611 1449M1245 2212L1611 2002M1245 2212L1896 1863M1245 2212L1896 1311M1245 2212L2181 2278M1245 2212L2181 1726M1245 2212L2466 1587M1245 2212L2466 2140M1245 2212L2748 2002M1245 2212L2748 1449M1245 2212L3032 1311M1245 2212L3032 1863M1245 2212L3317 1726M1245 2212L3317 2278"/>
<path d="M3740 1818L1611 1311M3740 1818L1611 1449M3740 1818L1611 1587M3740 1818L1611 1726M3740 1818L1611 1863M3740 1818L1611 2002M3740 1818L1611 2140M3740 1818L1611 2278M3740 1818L1611 2415M3740 1818L1896 1311M3740 1818L1896 1449M3740 1818L1896 1587M3740 1818L1896 1726M3740 1818L1896 1863M3740 1818L1896 2002M3740 1818L1896 2140M3740 1818L1896 2278M3740 1818L2181 1311M3740 1818L2181 1449M3740 1818L2181 1587M3740 1818L2181 1726M3740 1818L2181 1863M3740 1818L2181 2002M3740 1818L2181 2140M3740 1818L2181 2278M3740 1818L2466 1311M3740 1818L2466 1449M3740 1818L2466 1587M3740 1818L2466 1726M3740 1818L2466 1863M3740 1818L2466 2002M3740 1818L2466 2140M3740 1818L2466 2278M3740 1818L2748 1311M3740 1818L2748 1449M3740 1818L2748 1587M3740 1818L2748 1726M3740 1818L2748 1863M3740 1818L2748 2002M3740 1818L2748 2140M3740 1818L2748 2278M3740 1818L3032 1311M3740 1818L3032 1449M3740 1818L3032 1587M3740 1818L3032 1726M3740 1818L3032 1863M3740 1818L3032 2002M3740 1818L3032 2140M3740 1818L3032 2278M3740 1818L3317 1311M3740 1818L3317 1449M3740 1818L3317 1587M3740 1818L3317 1726M3740 1818L3317 1863M3740 1818L3317 2002M3740 1818L3317 2140M3740 1818L3317 2278"/>
</g>

<!-- Panel B nodes: metabolites -->
<g id="b-metabolites">
<g id="b-M0"><circle class="mn" cx="550" cy="2105" r="67"/><text class="bt" x="550" y="2120">M0</text></g>
<g id="b-M1"><circle class="mn" cx="479" cy="1672" r="74"/><text class="bt" x="479" y="1687">M1</text></g>
<g id="b-M2"><circle class="mn" cx="1355" cy="2105" r="57"/><text class="bt" x="1355" y="2120">M2</text></g>
<g id="b-M3"><circle class="mn" cx="1450" cy="1822" r="65"/><text class="bt" x="1450" y="1837">M3</text></g>
<g id="b-M4"><circle class="mn" cx="660" cy="2212" r="58"/><text class="bt" x="660" y="2227">M4</text></g>
<g id="b-M5"><circle class="mn" cx="455" cy="1822" r="54"/><text class="bt" x="455" y="1837">M5</text></g>
<g id="b-M6"><circle class="mn" cx="1107" cy="1363" r="52"/><text class="bt" x="1107" y="1378">M6</text></g>
<g id="b-M7"><circle class="mn" cx="798" cy="2281" r="63"/><text class="bt" x="798" y="2296">M7</text></g>
<g id="b-M8"><circle class="mn" cx="953" cy="1340" r="46"/><text class="bt" x="953" y="1355">M8</text></g>
<g id="b-M9"><circle class="mn" cx="550" cy="1537" r="44"/><text class="bt" x="550" y="1552">M9</text></g>
<g id="b-M10"><circle class="mn" cx="479" cy="1970" r="51"/><text class="bt" x="479" y="1985">M10</text></g>
<g id="b-M11"><circle class="mn" cx="1425" cy="1672" r="42"/><text class="bt" x="1425" y="1687">M11</text></g>
<g id="b-M12"><circle class="mn" cx="1245" cy="1431" r="38"/><text class="bt" x="1245" y="1446">M12</text></g>
<g id="b-M13"><circle class="mn" cx="1425" cy="1970" r="63"/><text class="bt" x="1425" y="1985">M13</text></g>
<g id="b-M14"><circle class="mn" cx="798" cy="1363" r="44"/><text class="bt" x="798" y="1378">M14</text></g>
<g id="b-M15"><circle class="mn" cx="660" cy="1431" r="74"/><text class="bt" x="660" y="1446">M15</text></g>
<g id="b-M16"><circle class="mn" cx="1355" cy="1537" r="54"/><text class="bt" x="1355" y="1552">M16</text></g>
<g id="b-M17"><circle class="mn" cx="952" cy="2305" r="41"/><text class="bt" x="952" y="2320">M17</text></g>
<g id="b-M18"><circle class="mn" cx="1106" cy="2281" r="60"/><text class="bt" x="1106" y="2296">M18</text></g>
<g id="b-M19"><circle class="mn" cx="1245" cy="2212" r="55"/><text class="bt" x="1245" y="2227">M19</text></g>
<g id="b-Metabolites"><circle cx="936" cy="1812" r="46" fill="#3e9e50"/><text x="932" y="1835" font-size="64" text-anchor="middle" fill="#000">Metabolites</text></g>
<g id="b-UC"><circle cx="3740" cy="1818" r="89" fill="#e2634a"/><text x="3740" y="1842" font-size="68" text-anchor="middle" fill="#000">UC</text></g>
</g>

<!-- Panel B nodes: targets -->
<g id="b-targets">
<g id="b-EGFR"><circle class="bn" cx="1611" cy="1311" r="42"/><text class="bt" x="1611" y="1326">EGFR</text></g>
<g id="b-SERPINE1"><circle class="bn" cx="1611" cy="1449" r="42"/><text class="bt" x="1611" y="1464">SERPINE1</text></g>
<g id="b-CDK4"><circle class="bn" cx="1611" cy="1587" r="25"/><text class="bt" x="1611" y="1602">CDK4</text></g>
<g id="b-ABCC1"><circle class="bn" cx="1611" cy="1726" r="29"/><text class="bt" x="1611" y="1741">ABCC1</text></g>
<g id="b-ALOX15"><circle class="bn" cx="1611" cy="1863" r="38"/><text class="bt" x="1611" y="1878">ALOX15</text></g>
<g id="b-CDK2"><circle class="bn" cx="1611" cy="2002" r="29"/><text class="bt" x="1611" y="2017">CDK2</text></g>
<g id="b-CA9"><circle class="bn" cx="1611" cy="2140" r="43"/><text class="bt" x="1611" y="2155">CA9</text></g>
<g id="b-MELK"><circle class="bn" cx="1611" cy="2278" r="37"/><text class="bt" x="1611" y="2293">MELK</text></g>
<g id="b-ACP1"><circle class="bn" cx="1611" cy="2415" r="25"/><text class="bt" x="1611" y="2430">ACP1</text></g>
<g id="b-AURKA"><circle class="bn" cx="1896" cy="1311" r="44"/><text class="bt" x="1896" y="1326">AURKA</text></g>
<g id="b-TERT"><circle class="bn" cx="1896" cy="1449" r="42"/><text class="bt" x="1896" y="1464">TERT</text></g>
<g id="b-ESR2"><circle class="bn" cx="1896" cy="1587" r="43"/><text class="bt" x="1896" y="1602">ESR2</text></g>
<g id="b-BRAF"><circle class="bn" cx="1896" cy="1726" r="44"/><text class="bt" x="1896" y="1741">BRAF</text></g>
<g id="b-HSP90AA1"><circle class="bn" cx="1896" cy="1863" r="29"/><text class="bt" x="1896" y="1878">HSP90AA1</text></g>
<g id="b-CHEK1"><circle class="bn" cx="1896" cy="2002" r="37"/><text class="bt" x="1896" y="2017">CHEK1</text></g>
<g id="b-MET"><circle class="bn" cx="1896" cy="2140" r="37"/><text class="bt" x="1896" y="2155">MET</text></g>
<g id="b-CHEK2"><circle class="bn" cx="1896" cy="2278" r="37"/><text class="bt" x="1896" y="2293">CHEK2</text></g>
<g id="b-SYK"><circle class="bn" cx="2181" cy="1311" r="37"/><text class="bt" x="2181" y="1326">SYK</text></g>
<g id="b-SRC"><circle class="bn" cx="2181" cy="1449" r="35"/><text class="bt" x="2181" y="1464">SRC</text></g>
<g id="b-CA1"><circle class="bn" cx="2181" cy="1587" r="46"/><text class="bt" x="2181" y="1602">CA1</text></g>
<g id="b-MCL1"><circle class="bn" cx="2181" cy="1726" r="35"/><text class="bt" x="2181" y="1741">MCL1</text></g>
<g id="b-CYP3A4"><circle class="bn" cx="2181" cy="1863" r="32"/><text class="bt" x="2181" y="1878">CYP3A4</text></g>
<g id="b-GLI1"><circle class="bn" cx="2181" cy="2002" r="29"/><text class="bt" x="2181" y="2017">GLI1</text></g>
<g id="b-ERBB2"><circle class="bn" cx="2181" cy="2140" r="33"/><text class="bt" x="2181" y="2155">ERBB2</text></g>
<g id="b-PTGS1"><circle class="bn" cx="2181" cy="2278" r="40"/><text class="bt" x="2181" y="2293">PTGS1</text></g>
<g id="b-ADORA2A"><circle class="bn" cx="2466" cy="1311" r="40"/><text class="bt" x="2466" y="1326">ADORA2A</text></g>
<g id="b-CYP2C9"><circle class="bn" cx="2466" cy="1449" r="29"/><text class="bt" x="2466" y="1464">CYP2C9</text></g>
<g id="b-RPS6KB1"><circle class="bn" cx="2466" cy="1587" r="37"/><text class="bt" x="2466" y="1602">RPS6KB1</text></g>
<g id="b-PTGS2"><circle class="bn" cx="2466" cy="1726" r="42"/><text class="bt" x="2466" y="1741">PTGS2</text></g>
<g id="b-MDM2"><circle class="bn" cx="2466" cy="1863" r="37"/><text class="bt" x="2466" y="1878">MDM2</text></g>
<g id="b-INSR"><circle class="bn" cx="2466" cy="2002" r="29"/><text class="bt" x="2466" y="2017">INSR</text></g>
<g id="b-NFE2L2"><circle class="bn" cx="2466" cy="2140" r="33"/><text class="bt" x="2466" y="2155">NFE2L2</text></g>
<g id="b-ALOX5"><circle class="bn" cx="2466" cy="2278" r="33"/><text class="bt" x="2466" y="2293">ALOX5</text></g>
<g id="b-CYP2C19"><circle class="bn" cx="2748" cy="1311" r="29"/><text class="bt" x="2748" y="1326">CYP2C19</text></g>
<g id="b-MTOR"><circle class="bn" cx="2748" cy="1449" r="32"/><text class="bt" x="2748" y="1464">MTOR</text></g>
<g id="b-WEE1"><circle class="bn" cx="2748" cy="1587" r="32"/><text class="bt" x="2748" y="1602">WEE1</text></g>
<g id="b-MMP9"><circle class="bn" cx="2748" cy="1726" r="40"/><text class="bt" x="2748" y="1741">MMP9</text></g>
<g id="b-PIK3CG"><circle class="bn" cx="2748" cy="1863" r="25"/><text class="bt" x="2748" y="1878">PIK3CG</text></g>
<g id="b-ESR1"><circle class="bn" cx="2748" cy="2002" r="25"/><text class="bt" x="2748" y="2017">ESR1</text></g>
<g id="b-AKR1B1"><circle class="bn" cx="2748" cy="2140" r="33"/><text class="bt" x="2748" y="2155">AKR1B1</text></g>
<g id="b-MMP1"><circle class="bn" cx="2748" cy="2278" r="40"/><text class="bt" x="2748" y="2293">MMP1</text></g>
<g id="b-CDK1"><circle class="bn" cx="3032" cy="1311" r="33"/><text class="bt" x="3032" y="1326">CDK1</text></g>
<g id="b-MIF"><circle class="bn" cx="3032" cy="1449" r="32"/><text class="bt" x="3032" y="1464">MIF</text></g>
<g id="b-MMP2"><circle class="bn" cx="3032" cy="1587" r="40"/><text class="bt" x="3032" y="1602">MMP2</text></g>
<g id="b-CTSL"><circle class="bn" cx="3032" cy="1726" r="33"/><text class="bt" x="3032" y="1741">CTSL</text></g>
<g id="b-CA2"><circle class="bn" cx="3032" cy="1863" r="33"/><text class="bt" x="3032" y="1878">CA2</text></g>
<g id="b-RAF1"><circle class="bn" cx="3032" cy="2002" r="43"/><text class="bt" x="3032" y="2017">RAF1</text></g>
<g id="b-EPHX2"><circle class="bn" cx="3032" cy="2140" r="25"/><text class="bt" x="3032" y="2155">EPHX2</text></g>
<g id="b-STAT3"><circle class="bn" cx="3032" cy="2278" r="32"/><text class="bt" x="3032" y="2293">STAT3</text></g>
<g id="b-GSK3B"><circle class="bn" cx="3317" cy="1311" r="33"/><text class="bt" x="3317" y="1326">GSK3B</text></g>
<g id="b-SNCA"><circle class="bn" cx="3317" cy="1449" r="32"/><text class="bt" x="3317" y="1464">SNCA</text></g>
<g id="b-TLR9"><circle class="bn" cx="3317" cy="1587" r="32"/><text class="bt" x="3317" y="1602">TLR9</text></g>
<g id="b-AR"><circle class="bn" cx="3317" cy="1726" r="32"/><text class="bt" x="3317" y="1741">AR</text></g>
<g id="b-TOP1"><circle class="bn" cx="3317" cy="1863" r="43"/><text class="bt" x="3317" y="1878">TOP1</text></g>
<g id="b-IGF1R"><circle class="bn" cx="3317" cy="2002" r="38"/><text class="bt" x="3317" y="2017">IGF1R</text></g>
<g id="b-CRHR1"><circle class="bn" cx="3317" cy="2140" r="28"/><text class="bt" x="3317" y="2155">CRHR1</text></g>
<g id="b-PIK3CA"><circle class="bn" cx="3317" cy="2278" r="32"/><text class="bt" x="3317" y="2293">PIK3CA</text></g>
</g>

<!-- Panel D -->
<g id="panelD">
<g id="d-bars">
<rect x="413" y="3365" width="80" height="49" fill="#2a9d78"/>
<rect x="513" y="3296" width="80" height="118" fill="#2a9d78"/>
<rect x="613" y="2778" width="80" height="636" fill="#2a9d78"/>
<rect x="811" y="3394" width="80" height="20" fill="#d4622a"/>
<rect x="911" y="3394" width="80" height="20" fill="#d4622a"/>
<rect x="1010" y="3398" width="80" height="16" fill="#d4622a"/>
<rect x="1109" y="3401" width="80" height="13" fill="#d4622a"/>
<rect x="1208" y="3388" width="80" height="26" fill="#d4622a"/>
<rect x="1406" y="3345" width="80" height="69" fill="#6a6fad"/>
<rect x="1506" y="3172" width="80" height="242" fill="#6a6fad"/>
<rect x="1605" y="3387" width="80" height="27" fill="#6a6fad"/>
<rect x="1704" y="3343" width="80" height="71" fill="#6a6fad"/>
<rect x="1804" y="3375" width="80" height="39" fill="#6a6fad"/>
</g>
<g id="d-axes" stroke="#000" stroke-width="5" fill="none">
<path d="M354 2744V3414H1940"/>
<path d="M340 2782H354M340 2940H354M340 3098H354M340 3256H354M340 3414H354"/>
<path d="M453 3414V3429M553 3414V3429M653 3414V3429M851 3414V3429M951 3414V3429M1050 3414V3429M1149 3414V3429M1248 3414V3429M1446 3414V3429M1546 3414V3429M1645 3414V3429M1744 3414V3429M1844 3414V3429"/>
</g>
<g id="d-ticklabels" font-size="48" text-anchor="end" fill="#000">
<text x="335" y="2799">80</text>
<text x="335" y="2957">60</text>
<text x="335" y="3115">40</text>
<text x="335" y="3273">20</text>
<text x="335" y="3431">0</text>
</g>
<text x="0" y="0" font-size="55" text-anchor="middle" fill="#000" transform="translate(252,3078) rotate(-90)">Fold Enrichment</text>
<g id="d-legend" font-size="35" fill="#000">
<rect x="1762" y="2776" width="70" height="26" fill="#2a9d78"/>
<rect x="1762" y="2825" width="70" height="26" fill="#d4622a"/>
<rect x="1762" y="2874" width="70" height="26" fill="#6a6fad"/>
<text x="1858" y="2802">BP</text>
<text x="1858" y="2851">CC</text>
<text x="1858" y="2900">MF</text>
</g>
<g id="d-xlabels">
<text class="xl" fill="#2a9d78" transform="translate(461,3442) rotate(-71)">Host-virus interaction</text>
<text class="xl" fill="#2a9d78" transform="translate(561,3442) rotate(-71)">Angiogenesis</text>
<text class="xl" fill="#2a9d78" transform="translate(661,3442) rotate(-71)">Collagen degradation</text>
<text class="xl" fill="#d4622a" transform="translate(859,3442) rotate(-71)">Nucleus</text>
<text class="xl" fill="#d4622a" transform="translate(959,3442) rotate(-71)">Cell membrane</text>
<text class="xl" fill="#d4622a" transform="translate(1058,3442) rotate(-71)">Cytoplasm</text>
<text class="xl" fill="#d4622a" transform="translate(1157,3442) rotate(-71)">Membrane</text>
<text class="xl" fill="#d4622a" transform="translate(1256,3442) rotate(-71)">Mitochondrion</text>
<text class="xl" fill="#6a6fad" transform="translate(1454,3442) rotate(-71)">Kinase</text>
<text class="xl" fill="#6a6fad" transform="translate(1554,3442) rotate(-71)">Tyrosine-protein kinase</text>
<text class="xl" fill="#6a6fad" transform="translate(1653,3442) rotate(-71)">Transferase</text>
<text class="xl" fill="#6a6fad" transform="translate(1752,3442) rotate(-71)">Serine/threonine-protein kinase</text>
<text class="xl" fill="#6a6fad" transform="translate(1852,3442) rotate(-71)">Activator</text>
</g>
</g>

<!-- Panel E -->
<g id="panelE">
<rect x="2767" y="2733" width="975" height="1008" fill="#fff"/>
<g id="e-grid">
<path class="gl" stroke-width="2" d="M2786 2733V3741M3071 2733V3741M3356 2733V3741M3641 2733V3741"/>
<path class="gl" stroke-width="4" d="M2928 2733V3741M3213 2733V3741M3498 2733V3741"/>
<path class="gl" stroke-width="6" d="M2767 2770H3742M2767 2837H3742M2767 2903H3742M2767 2970H3742M2767 3037H3742M2767 3104H3742M2767 3170H3742M2767 3237H3742M2767 3304H3742M2767 3370H3742M2767 3437H3742M2767 3504H3742M2767 3570H3742M2767 3637H3742M2767 3704H3742"/>
</g>
<rect x="2767" y="2733" width="975" height="1008" fill="none" stroke="#333" stroke-width="3"/>
<g id="e-ticks" stroke="#333" stroke-width="4">
<path d="M2757 2770H2767M2757 2837H2767M2757 2903H2767M2757 2970H2767M2757 3037H2767M2757 3104H2767M2757 3170H2767M2757 3237H2767M2757 3304H2767M2757 3370H2767M2757 3437H2767M2757 3504H2767M2757 3570H2767M2757 3637H2767M2757 3704H2767"/>
<path d="M2928 3741V3752M3213 3741V3752M3498 3741V3752" stroke-width="3"/>
</g>
<g id="e-ylabels">
<text class="el" x="2752" y="2780">Endocrine resistance</text>
<text class="el" x="2752" y="2847">Pathways in cancer</text>
<text class="el" x="2752" y="2913">Proteoglycans in cancer</text>
<text class="el" x="2752" y="2980">Prostate cancer</text>
<text class="el" x="2752" y="3047">EGFR tyrosine kinase inhibitor resistance</text>
<text class="el" x="2752" y="3114">Bladder cancer</text>
<text class="el" x="2752" y="3180">Breast cancer</text>
<text class="el" x="2752" y="3247">Chemical carcinogenesis - receptor activation</text>
<text class="el" x="2752" y="3314">Estrogen signaling pathway</text>
<text class="el" x="2752" y="3380">ErbB signaling pathway</text>
<text class="el" x="2752" y="3447">PI3K-Akt signaling pathway</text>
<text class="el" x="2752" y="3514">Focal adhesion</text>
<text class="el" x="2752" y="3580">MicroRNAs in cancer</text>
<text class="el" x="2752" y="3647">Prolactin signaling pathway</text>
<text class="el" x="2752" y="3714">Melanoma</text>
</g>
<g id="e-xlabels" font-size="28" text-anchor="middle" fill="#333">
<text x="2928" y="3790">25</text>
<text x="3213" y="3790">50</text>
<text x="3498" y="3790">75</text>
</g>
<g id="e-dots">
<circle cx="3353" cy="2770" r="18" fill="#3f84c9"/>
<circle cx="2825" cy="2837" r="20" fill="#4686c8"/>
<circle cx="3014" cy="2903" r="18" fill="#7d94cc"/>
<circle cx="3256" cy="2970" r="16" fill="#8e9cc9"/>
<circle cx="3387" cy="3037" r="16" fill="#a6a8c2"/>
<circle cx="3698" cy="3104" r="12" fill="#cfbd86"/>
<circle cx="3008" cy="3170" r="15" fill="#d8c27a"/>
<circle cx="2893" cy="3237" r="16" fill="#e2c65b"/>
<circle cx="2994" cy="3304" r="15" fill="#e4c854"/>
<circle cx="3147" cy="3370" r="13" fill="#e6ca48"/>
<circle cx="2806" cy="3437" r="17" fill="#e9cc3d"/>
<circle cx="2882" cy="3504" r="15" fill="#ebce37"/>
<circle cx="2811" cy="3570" r="17" fill="#eed230"/>
<circle cx="3177" cy="3637" r="10" fill="#eecf33"/>
<circle cx="3161" cy="3704" r="10" fill="#eece36"/>
</g>
<g id="e-legend">
<text x="3778" y="2945" font-size="32" fill="#1a1a1a">−log<tspan font-size="22" dx="6" dy="7">10</tspan><tspan dy="-7">(pvalue)</tspan></text>
<rect x="3790" y="2968" width="48" height="240" fill="url(#cbar)"/>
<path d="M3790 3014H3799M3829 3014H3838M3790 3067H3799M3829 3067H3838M3790 3121H3799M3829 3121H3838M3790 3175H3799M3829 3175H3838" stroke="#fff" stroke-width="3"/>
<g font-size="28" fill="#333">
<text x="3852" y="3024">17.5</text>
<text x="3852" y="3077">15.0</text>
<text x="3852" y="3131">12.5</text>
<text x="3852" y="3185">10.0</text>
</g>
<text x="3790" y="3297" font-size="32" fill="#1a1a1a">count</text>
<g fill="#000">
<circle cx="3812" cy="3341" r="8"/>
<circle cx="3812" cy="3389" r="10"/>
<circle cx="3812" cy="3436" r="12"/>
<circle cx="3812" cy="3484" r="14"/>
<circle cx="3812" cy="3532" r="16"/>
</g>
<g font-size="28" fill="#333">
<text x="3852" y="3351">7.5</text>
<text x="3852" y="3399">10.0</text>
<text x="3852" y="3446">12.5</text>
<text x="3852" y="3494">15.0</text>
<text x="3852" y="3542">17.5</text>
</g>
</g>
</g>
</svg>
